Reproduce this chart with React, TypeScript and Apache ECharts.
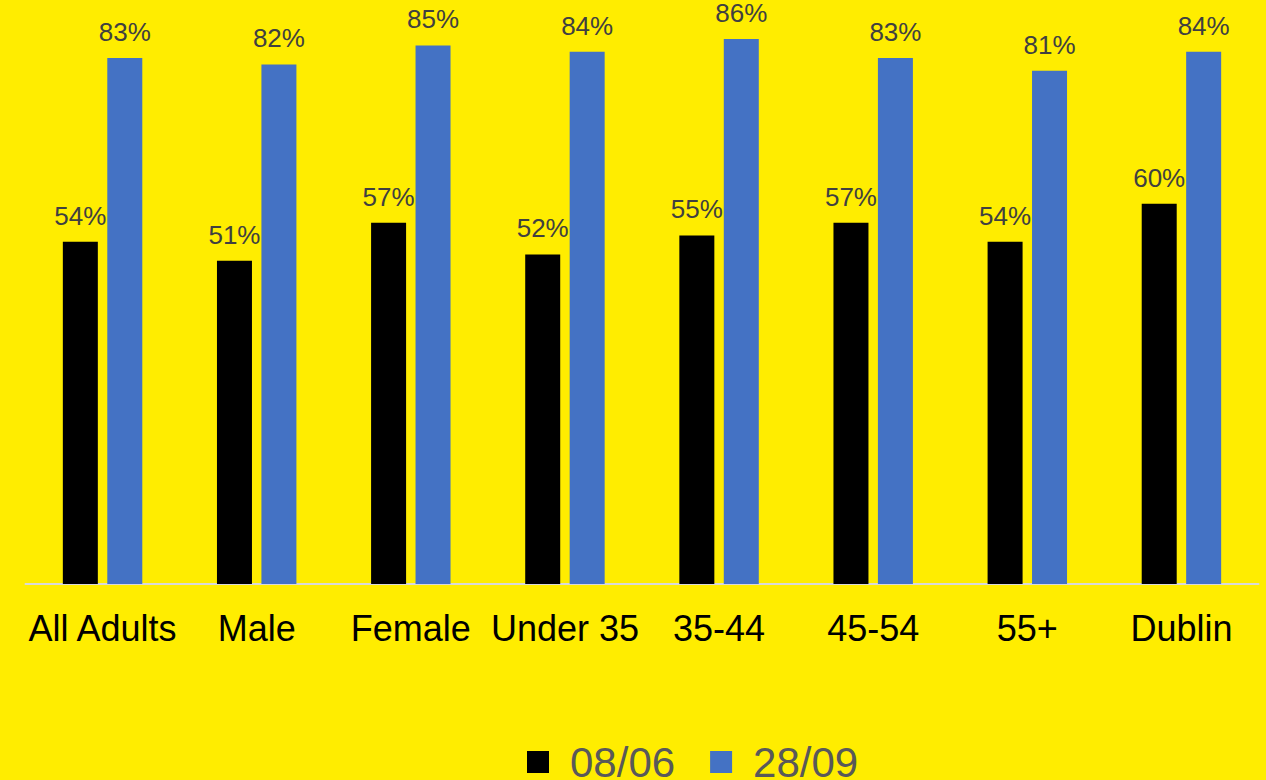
import React, { useEffect, useRef } from "react";
import * as echarts from "echarts";

const categories = ["All Adults", "Male", "Female", "Under 35", "35-44", "45-54", "55+", "Dublin"];
const seriesNames = ["08/06", "28/09"];
const values0806 = [54, 51, 57, 52, 55, 57, 54, 60];
const values2809 = [83, 82, 85, 84, 86, 83, 81, 84];

const FONT = "'Liberation Sans', Arial, sans-serif";

export default function App() {
  const ref = useRef<HTMLDivElement>(null);
  useEffect(() => {
    if (!ref.current) return;
    const chart = echarts.init(ref.current, undefined, { renderer: "svg" });
    const labelCfg = {
      show: true,
      position: "top",
      distance: 13,
      formatter: "{c}%",
      fontSize: 26,
      color: "#404040",
      fontFamily: FONT,
    };
    chart.setOption({
      animation: false,
      backgroundColor: "#FFED00",
      grid: { left: 25.5, right: 7.5, top: 13.7, bottom: 196 },
      legend: {
        left: 522,
        top: 736,
        itemWidth: 22,
        itemHeight: 22,
        itemGap: 35,
        icon: "rect",
        selectedMode: false,
        textStyle: { fontSize: 42, lineHeight: 42, color: "#595959", fontFamily: FONT, padding: [0, 0, 0, 16] },
        data: seriesNames,
      },
      xAxis: {
        type: "category",
        data: categories,
        axisLine: { show: true, lineStyle: { color: "#D9D9D9", width: 2 } },
        axisTick: { show: false },
        axisLabel: { fontSize: 36, color: "#000000", fontFamily: FONT, margin: 26, interval: 0 },
      },
      yAxis: {
        type: "value",
        min: 0,
        max: 90,
        show: false,
        splitLine: { show: false },
      },
      series: [
        {
          name: seriesNames[0],
          type: "bar",
          data: values0806,
          barWidth: 35,
          barGap: "27%",
          itemStyle: { color: "#000000" },
          label: labelCfg,
        },
        {
          name: seriesNames[1],
          type: "bar",
          data: values2809,
          barWidth: 35,
          itemStyle: { color: "#4472C4" },
          label: labelCfg,
        },
      ],
    });
    return () => chart.dispose();
  }, []);
  return (
    <div
      ref={ref}
      style={{ position: "absolute", left: 0, top: 0, width: 1266, height: 780 }}
    />
  );
}
